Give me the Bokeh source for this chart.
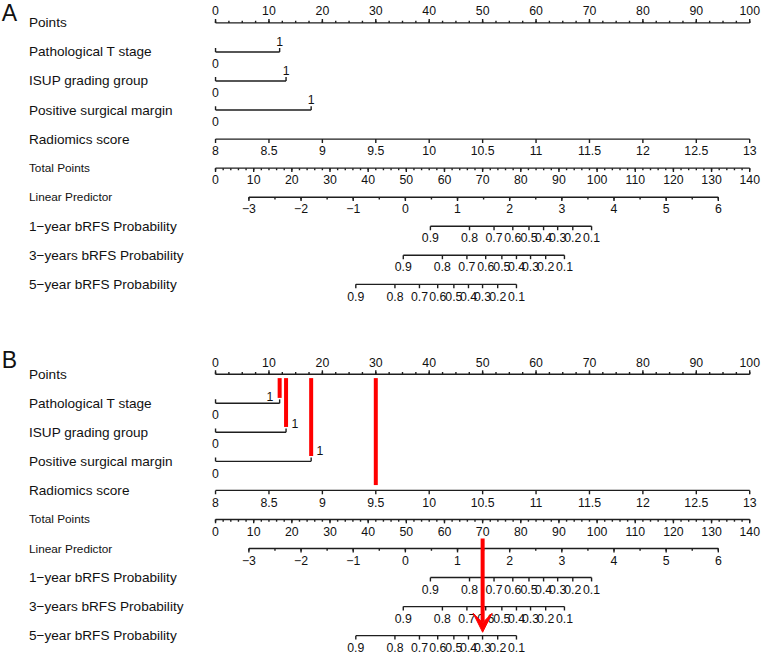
from bokeh.plotting import figure
from bokeh.models import Range1d, Arrow, VeeHead, ColumnDataSource
from bokeh.core.properties import value
from bokeh.embed import file_html
from bokeh.resources import INLINE

FONT = "Liberation Sans"

# ---------------- data ----------------
row_names = ["Points", "Pathological T stage", "ISUP grading group",
             "Positive surgical margin", "Radiomics score", "Total Points",
             "Linear Predictor", "1\u2212year bRFS Probability",
             "3\u2212years bRFS Probability", "5\u2212year bRFS Probability"]
small_rows = ["Total Points", "Linear Predictor"]

points_major = [0, 10, 20, 30, 40, 50, 60, 70, 80, 90, 100]
points_minor = [i * 2.5 for i in range(41)]

binary_labels = ["0", "1"]
pt_stage_points = [0.0, 12.0]
isup_points = [0.0, 13.2]
psm_points = [0.0, 17.9]

radiomics_ticks = [8.0, 8.5, 9.0, 9.5, 10.0, 10.5, 11.0, 11.5, 12.0, 12.5, 13.0]
radiomics_labels = ["8", "8.5", "9", "9.5", "10", "10.5", "11", "11.5", "12", "12.5", "13"]
radiomics_min, radiomics_max = 8.0, 13.0

total_major = [0, 10, 20, 30, 40, 50, 60, 70, 80, 90, 100, 110, 120, 130, 140]
total_minor = list(range(0, 141, 2))
total_max = 140.0

lp_major = [-3, -2, -1, 0, 1, 2, 3, 4, 5, 6]
lp_labels = ["\u22123", "\u22122", "\u22121", "0", "1", "2", "3", "4", "5", "6"]
lp_minor = [-3, -2.5, -2, -1.5, -1, -0.5, 0, 0.5, 1, 1.5, 2, 2.5, 3, 3.5, 4, 4.5, 5, 5.5, 6]
lp_total_at_zero = 49.75      # total points at linear predictor 0
lp_total_per_unit = 13.67     # total points per unit of linear predictor

prob_labels = ["0.9", "0.8", "0.7", "0.6", "0.5", "0.4", "0.3", "0.2", "0.1"]
prob_1y_lp = [0.48, 1.23, 1.70, 2.06, 2.37, 2.65, 2.92, 3.21, 3.57]
prob_3y_lp = [-0.04, 0.71, 1.18, 1.54, 1.85, 2.13, 2.40, 2.69, 3.05]
prob_5y_lp = [-0.95, -0.20, 0.27, 0.62, 0.93, 1.21, 1.48, 1.77, 2.13]

# worked example of panel B
example_points = [12.0, 13.2, 17.9, 30.0]   # T stage, ISUP, margin, radiomics
example_total = 70.0

# ---------------- scales ----------------
def rad_to_pts(v):
    return (v - radiomics_min) / (radiomics_max - radiomics_min) * 100.0

def tp_to_pts(tp):
    return tp * 100.0 / total_max

def lp_to_pts(lp):
    return tp_to_pts(lp_total_at_zero + lp_total_per_unit * lp)

# ---------------- layout ----------------
PX_PER_PT = 5.44
def dpx(d):
    return d / PX_PER_PT

LABEL_X = dpx(31 - 221)
ROW_STEP = 29.85
PANEL_TOP = [23.0, 384.0]
PANEL_LETTER = ["A", "B"]
LETTER_Y = [12.5, 369.0]
MAJOR = 4.0
MINOR = 2.3
LINE_COLOR = "#1e1e1e"
TEXT_COLOR = "#111111"
TICK_FS = "12.3px"

p = figure(width=761, height=654, output_backend="svg", toolbar_location=None,
           x_range=Range1d((2 - 221) / PX_PER_PT, (777 - 221) / PX_PER_PT),
           y_range=Range1d(672, 0), min_border=0)
p.axis.visible = False
p.grid.visible = False
p.outline_line_color = None
p.background_fill_color = "white"

seg = dict(x0=[], y0=[], x1=[], y1=[])
def add_seg(x0, y0, x1, y1):
    seg["x0"].append(x0); seg["y0"].append(y0)
    seg["x1"].append(x1); seg["y1"].append(y1)

texts = {}
def add_text(x, y, t, size, align="center"):
    key = (size, align)
    d = texts.setdefault(key, dict(x=[], y=[], text=[]))
    d["x"].append(x); d["y"].append(y); d["text"].append(t)

def axis_row(major, labels, y, minor=(), up=False, lab_off=12.0):
    allx = list(major) + list(minor)
    add_seg(min(allx), y, max(allx), y)
    s = -1 if up else 1
    for x in major:
        add_seg(x, y, x, y + s * MAJOR)
    for x in minor:
        add_seg(x, y, x, y + s * MINOR)
    for x, l in zip(major, labels):
        add_text(x, y + s * lab_off, l, TICK_FS)

red = dict(x0=[], y0=[], x1=[], y1=[])

for k, top in enumerate(PANEL_TOP):
    ys = [top + i * ROW_STEP for i in range(len(row_names))]
    add_text(dpx(11 - 221), LETTER_Y[k], PANEL_LETTER[k], "23px")
    for name, y in zip(row_names, ys):
        add_text(LABEL_X, y, name, "11.8px" if name in small_rows else "13.6px", "left")

    # Points
    axis_row(points_major, [str(v) for v in points_major], ys[0], points_minor,
             up=True, lab_off=12.5)
    # binary rows
    b_off = [(-10, -7), (9, -9), (9, -11)]
    for j, pts in enumerate([pt_stage_points, isup_points, psm_points]):
        y = ys[1 + j]
        add_seg(pts[0], y, pts[1], y)
        add_seg(pts[0], y, pts[0], y - MAJOR)
        add_seg(pts[1], y, pts[1], y - MAJOR)
        add_text(pts[0], y + 12, binary_labels[0], TICK_FS)
        if k == 0:
            add_text(pts[1], y - 11, binary_labels[1], TICK_FS)
        else:
            add_text(pts[1] + dpx(b_off[j][0]), y + b_off[j][1], binary_labels[1], TICK_FS)
    # Radiomics
    axis_row([rad_to_pts(v) for v in radiomics_ticks], radiomics_labels, ys[4])
    # Total points
    axis_row([tp_to_pts(v) for v in total_major], [str(v) for v in total_major], ys[5],
             [tp_to_pts(v) for v in total_minor])
    # Linear predictor
    axis_row([lp_to_pts(v) for v in lp_major], lp_labels, ys[6],
             [lp_to_pts(v) for v in lp_minor])
    # probabilities
    for r, lps in zip([7, 8, 9], [prob_1y_lp, prob_3y_lp, prob_5y_lp]):
        axis_row([lp_to_pts(v) for v in lps], prob_labels, ys[r])

    if k == 1:
        for j, pts in enumerate(example_points):
            red["x0"].append(pts); red["x1"].append(pts)
            red["y0"].append(ys[0] + 4); red["y1"].append(ys[1 + j] - 5.5)
        xa = tp_to_pts(example_total)
        p.add_layout(Arrow(end=VeeHead(size=19, fill_color="#ff0000", line_color="#ff0000"),
                           x_start=xa, y_start=ys[5] + 19.5, x_end=xa, y_end=ys[9] - 3.5,
                           line_color="#ff0000", line_width=4))

p.segment(x0="x0", y0="y0", x1="x1", y1="y1", source=ColumnDataSource(seg),
          line_color=LINE_COLOR, line_width=1.4)
p.segment(x0="x0", y0="y0", x1="x1", y1="y1", source=ColumnDataSource(red),
          line_color="#ff0000", line_width=4)

for (size, align), d in texts.items():
    p.text(x="x", y="y", text="text", source=ColumnDataSource(d),
           text_align=align, text_baseline="middle", text_font=value(FONT),
           text_font_size=value(size), text_color=TEXT_COLOR)

open("out.html", "w").write(file_html(p, INLINE))
